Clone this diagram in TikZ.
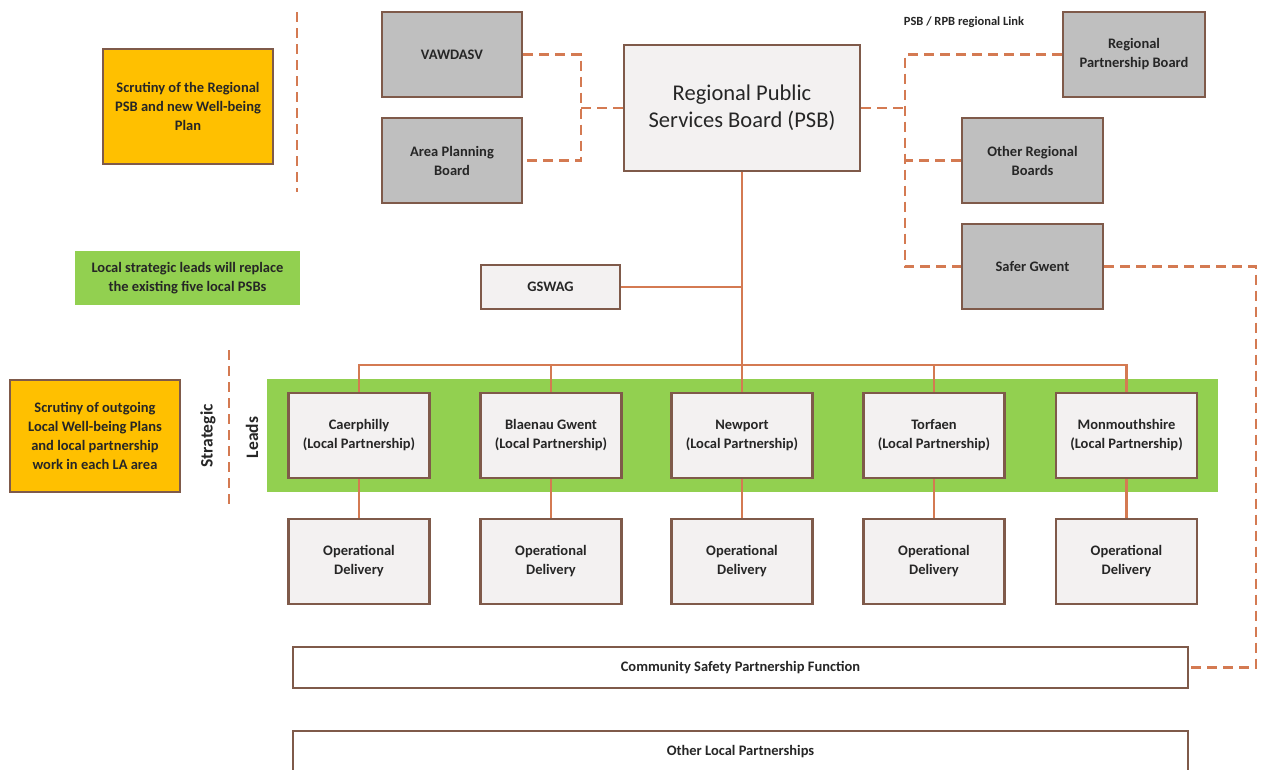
\documentclass[tikz,border=0pt]{standalone}
\usepackage{fontspec}
\setmainfont{Carlito}
\definecolor{brd}{HTML}{7F5A4A}
\definecolor{lnk}{HTML}{D47A52}
\definecolor{lightf}{HTML}{F3F1F1}
\definecolor{grayf}{HTML}{BFBFBF}
\definecolor{orangef}{HTML}{FFC000}
\definecolor{greenf}{HTML}{92D050}
\definecolor{txt}{HTML}{262626}
\begin{document}
\begin{tikzpicture}[x=1pt,y=-1pt,
  box/.style={draw=brd,line width=2.4pt,rectangle,inner sep=0pt,align=center,text=txt,
     font=\bfseries\fontsize{14.5}{19}\selectfont},
  lbox/.style={box,fill=lightf},
  gbox/.style={box,fill=grayf},
  obox/.style={box,fill=orangef,draw=brd},
  conn/.style={draw=lnk,line width=2.2pt},
  dconn/.style={draw=lnk,line width=2.6pt,dash pattern=on 10pt off 6pt},
  lbl/.style={text=txt,font=\bfseries\fontsize{14.5}{19}\selectfont,inner sep=0pt,align=center}]
\useasboundingbox (0,0) rectangle (1264,769);
\fill[white] (0,0) rectangle (1264,769);

% green band
\node[fill=greenf,minimum width=951pt,minimum height=113pt,inner sep=0pt] (band) at (742.5,435.5) {};

% left side
\node[obox,minimum width=170pt,minimum height=115pt] (scr1) at (188,106.5) {Scrutiny of the Regional\\PSB and new Well-being\\Plan};
\node[obox,minimum width=170pt,minimum height=112pt] (scr2) at (95,436) {Scrutiny of outgoing\\Local Well-being Plans\\and local partnership\\work in each LA area};
\node[fill=greenf,minimum width=225pt,minimum height=54pt,inner sep=0pt,align=center,text=txt,
  font=\bfseries\fontsize{14.5}{19}\selectfont] (gnote) at (187.5,278) {Local strategic leads will replace\\the existing five local PSBs};
\coordinate (d1a) at (297,12);
\coordinate (d1b) at (297,192);
\coordinate (d2a) at (229,350);
\coordinate (d2b) at (229,508);
\draw[dconn] (d1a) -- (d1b);
\draw[dconn] (d2a) -- (d2b);
\node[lbl,rotate=90,font=\bfseries\fontsize{17.5}{21}\selectfont] (strat) at (208,436) {Strategic};
\node[lbl,rotate=90,font=\bfseries\fontsize{17.5}{21}\selectfont] (leads) at (252,437.5) {Leads};

% top
\node[gbox,minimum width=140pt,minimum height=85pt] (vaw) at (452,54.5) {VAWDASV};
\node[gbox,minimum width=140pt,minimum height=85pt] (apb) at (452,160.5) {Area Planning\\Board};
\node[lbox,minimum width=236pt,minimum height=126pt,font=\fontsize{22.5}{27}\selectfont] (psb) at (742,108) {Regional Public\\Services Board (PSB)};
\node[gbox,minimum width=142pt,minimum height=85pt] (rpb) at (1134,54.5) {Regional\\Partnership Board};
\node[gbox,minimum width=141pt,minimum height=85pt] (orb) at (1032.5,160.5) {Other Regional\\Boards};
\node[gbox,minimum width=141pt,minimum height=85pt] (sg) at (1032.5,266.5) {Safer Gwent};
\node[lbl,font=\bfseries\fontsize{12.5}{15}\selectfont] (link) at (964,22) {PSB / RPB regional Link};
\node[lbox,minimum width=139pt,minimum height=44pt] (gswag) at (550.5,287) {GSWAG};

% dashed links left
\coordinate (lj) at (581,108);
\draw[dconn] (vaw.east) -- (vaw.east -| lj) -- (apb.east -| lj) -- (apb.east);
\draw[dconn] (lj) -- (psb.west);
% dashed links right
\coordinate (rj) at (905,108);
\draw[dconn] (psb.east) -- (rj);
\draw[dconn] (rpb.west) -- (rpb.west -| rj) -- (sg.west -| rj) -- (sg.west);
\draw[dconn] (orb.west) -- (orb.west -| rj);

% local partnerships
\foreach \n/\x/\t in {caer/359/Caerphilly,blae/551/Blaenau Gwent,newp/742/Newport,torf/934/Torfaen,monm/1126.5/Monmouthshire}{
  \node[lbox,minimum width=141pt,minimum height=85pt] (\n) at (\x,435.5) {\t\\(Local Partnership)};
  \node[lbox,minimum width=141pt,minimum height=85pt] (\n op) at (\x,561.5) {Operational\\Delivery};
  \draw[conn] (\n.south) -- (\n op.north);
}
\coordinate (bus) at (742,365);
\draw[conn] (psb.south) -- (newp.north);
\draw[conn] (caer.north) -- (caer.north |- bus) -- (monm.north |- bus) -- (monm.north);
\draw[conn] (blae.north) -- (blae.north |- bus);
\draw[conn] (torf.north) -- (torf.north |- bus);
\draw[conn] (gswag.east) -- (gswag.east -| psb.south);

% bottom
\node[box,fill=white,minimum width=895pt,minimum height=41pt] (csp) at (740.5,667.5) {Community Safety Partnership Function};
\node[box,fill=white,minimum width=895pt,minimum height=60pt] (olp) at (740.5,761) {};
\node[lbl] (olpt) at (740.5,752) {Other Local Partnerships};
\coordinate (sgr) at (1256,266.5);
\draw[dconn] (sg.east) -- (sgr) -- (sgr |- csp.east) -- (csp.east);
\end{tikzpicture}
\end{document}
